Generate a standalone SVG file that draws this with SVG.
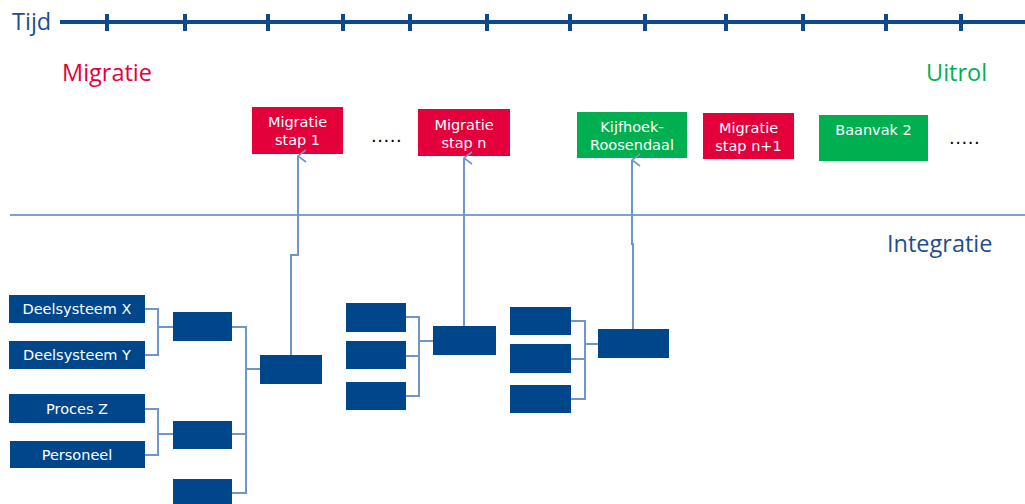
<svg xmlns="http://www.w3.org/2000/svg" width="1025" height="504" viewBox="0 0 1025 504">
  <style>
    .title { font-family: "Open Sans", "Noto Sans", sans-serif; font-size: 23.5px; }
    .lbl { font-family: "DejaVu Sans", Verdana, sans-serif; font-size: 14.5px; fill: #ffffff; text-anchor: middle; }
    .blue { fill: #00468b; }
    .red { fill: #e4003b; }
    .green { fill: #00b050; }
    .wire { fill: none; stroke: #6f96c8; stroke-width: 2; }
    .dots { font-family: "DejaVu Sans", Verdana, sans-serif; font-size: 18px; fill: #000; letter-spacing: 0.5px; }
  </style>
  <defs>
    <marker id="open-arrow" viewBox="0 0 14 10" refX="7" refY="1" markerWidth="14" markerHeight="10" markerUnits="userSpaceOnUse" orient="auto-start-reverse">
      <path d="M1,9 L7,1 L13,9" fill="none" stroke="#6f96c8" stroke-width="1.6"/>
    </marker>
  </defs>
  <rect width="1025" height="504" fill="#ffffff"/>

  <!-- time axis -->
  <g id="timeline">
    <text class="title" x="12" y="30" fill="#1f4e8c">Tijd</text>
    <line x1="60" y1="22" x2="1025" y2="22" stroke="#0b4a8b" stroke-width="4"/>
    <g stroke="#0b4a8b" stroke-width="4">
      <line x1="107" y1="14" x2="107" y2="31"/>
      <line x1="185" y1="14" x2="185" y2="31"/>
      <line x1="268" y1="14" x2="268" y2="31"/>
      <line x1="343" y1="14" x2="343" y2="31"/>
      <line x1="410" y1="14" x2="410" y2="31"/>
      <line x1="487" y1="14" x2="487" y2="31"/>
      <line x1="570" y1="14" x2="570" y2="31"/>
      <line x1="645" y1="14" x2="645" y2="31"/>
      <line x1="726" y1="14" x2="726" y2="31"/>
      <line x1="803" y1="14" x2="803" y2="31"/>
      <line x1="886" y1="14" x2="886" y2="31"/>
      <line x1="961" y1="14" x2="961" y2="31"/>
    </g>
  </g>

  <text class="title" x="62" y="81" fill="#e4003b">Migratie</text>
  <text class="title" x="926" y="81" fill="#00b050">Uitrol</text>
  <text class="title" x="887" y="252" fill="#1f4e8c">Integratie</text>

  <!-- divider between release and integration -->
  <line x1="10" y1="215" x2="1025" y2="215" stroke="#7da0d0" stroke-width="2"/>

  <!-- release steps -->
  <g id="migratie-stap-1">
    <rect class="red" x="252" y="107" width="91" height="47"/>
    <text class="lbl" x="297.5" y="127">Migratie</text>
    <text class="lbl" x="297.5" y="145">stap 1</text>
  </g>
  <text class="dots" x="371" y="142">.....</text>
  <g id="migratie-stap-n">
    <rect class="red" x="418" y="109" width="92" height="47"/>
    <text class="lbl" x="464" y="130">Migratie</text>
    <text class="lbl" x="464" y="148">stap n</text>
  </g>
  <g id="kijfhoek-roosendaal">
    <rect class="green" x="577" y="112" width="110" height="46"/>
    <text class="lbl" x="632" y="132">Kijfhoek-</text>
    <text class="lbl" x="632" y="150">Roosendaal</text>
  </g>
  <g id="migratie-stap-n1">
    <rect class="red" x="703" y="113" width="91" height="46"/>
    <text class="lbl" x="748.5" y="133">Migratie</text>
    <text class="lbl" x="748.5" y="151">stap n+1</text>
  </g>
  <g id="baanvak-2">
    <rect class="green" x="819" y="115" width="109" height="46"/>
    <text class="lbl" x="873.5" y="135">Baanvak 2</text>
  </g>
  <text class="dots" x="949" y="144">.....</text>

  <!-- integration tree, group 1 -->
  <g id="deelsysteem-x">
    <rect class="blue" x="9" y="295" width="136" height="28"/>
    <text class="lbl" x="77" y="314">Deelsysteem X</text>
  </g>
  <g id="deelsysteem-y">
    <rect class="blue" x="9" y="341" width="136" height="28"/>
    <text class="lbl" x="77" y="360">Deelsysteem Y</text>
  </g>
  <g id="proces-z">
    <rect class="blue" x="9" y="394" width="136" height="29"/>
    <text class="lbl" x="77" y="414">Proces Z</text>
  </g>
  <g id="personeel">
    <rect class="blue" x="10" y="441" width="135" height="27"/>
    <text class="lbl" x="77" y="460">Personeel</text>
  </g>
  <g id="a1"><rect class="blue" x="173" y="312" width="59" height="29"/></g>
  <g id="a2"><rect class="blue" x="173" y="421" width="59" height="28"/></g>
  <g id="a3"><rect class="blue" x="173" y="479" width="59" height="30"/></g>
  <g id="a-top"><rect class="blue" x="260" y="355" width="62" height="29"/></g>

  <!-- integration tree, group 2 -->
  <g id="b1"><rect class="blue" x="346" y="303" width="60" height="29"/></g>
  <g id="b2"><rect class="blue" x="346" y="341" width="60" height="28"/></g>
  <g id="b3"><rect class="blue" x="346" y="382" width="60" height="28"/></g>
  <g id="b-top"><rect class="blue" x="433" y="326" width="63" height="29"/></g>

  <!-- integration tree, group 3 -->
  <g id="c1"><rect class="blue" x="510" y="307" width="61" height="28"/></g>
  <g id="c2"><rect class="blue" x="510" y="344" width="61" height="29"/></g>
  <g id="c3"><rect class="blue" x="510" y="385" width="61" height="28"/></g>
  <g id="c-top"><rect class="blue" x="598" y="329" width="71" height="29"/></g>

  <g id="connectors">
    <!-- group 1 -->
    <path class="wire" d="M145,309 H158 V355 H145 M158,327 H173"/>
    <path class="wire" d="M145,409 H158 V455 H145 M158,434 H173"/>
    <path class="wire" d="M232,327 H246 V493 H232 M232,434 H246 M246,369 H260"/>
    <!-- group 2 -->
    <path class="wire" d="M406,317 H419 V396 H406 M406,356 H419 M419,341 H433"/>
    <!-- group 3 -->
    <path class="wire" d="M571,321 H585 V399 H571 M571,359 H585 M585,344 H598"/>
    <!-- upward links to release steps -->
    <path class="wire" d="M291,355 V255 H298 V156" marker-end="url(#open-arrow)"/>
    <path class="wire" d="M464,326 V158" marker-end="url(#open-arrow)"/>
    <path class="wire" d="M633,329 V244 H632 V160" marker-end="url(#open-arrow)"/>
  </g>
</svg>
